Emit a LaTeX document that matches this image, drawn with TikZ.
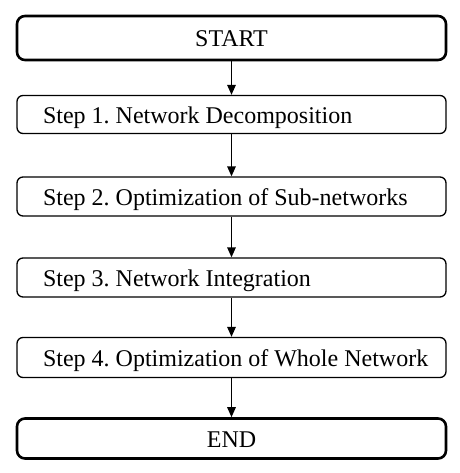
\documentclass[tikz,border=0pt]{standalone}
\usepackage{fontspec}
\setmainfont{Liberation Serif}
\usetikzlibrary{arrows.meta}
\newcommand{\stepline}[1]{\makebox[377pt][l]{#1}}
\tikzset{
    stepbox/.style={draw,line width=1.3pt,rounded corners=6pt,minimum width=429pt,minimum height=38pt,
        inner xsep=0pt,text height=21pt,text depth=3pt,font=\fontsize{24}{26}\selectfont\frenchspacing},
    endbox/.style={draw,line width=2.6pt,rounded corners=8pt,minimum width=429pt,
        text height=21pt,text depth=3pt,font=\fontsize{24}{26}\selectfont},
    flow/.style={line width=1.4pt,-{Triangle[length=10pt,width=8.5pt]}}
}
\begin{document}
\begin{tikzpicture}[x=1pt,y=-1pt]
            \useasboundingbox (0,0) rectangle (459,473);
            \node[endbox,minimum height=44pt] (start) at (231.5,38){START};
            \node[stepbox] (s1) at (231.5,114.5){\stepline{Step 1. Network Decomposition}};
            \node[stepbox,minimum height=39pt] (s2) at (231.5,196.5){\stepline{Step 2. Optimization of Sub-networks}};
            \node[stepbox,minimum height=39pt] (s3) at (231.5,277.5){\stepline{Step 3. Network Integration}};
            \node[stepbox,minimum height=40pt] (s4) at (231.5,357.5){\stepline{Step 4. Optimization of Whole Network}};
            \node[endbox,minimum height=40pt] (end) at (231.5,438.5){END};
            \draw[flow] (start)--(s1);
            \draw[flow] (s1)--(s2);
            \draw[flow] (s2)--(s3);
            \draw[flow] (s3)--(s4);
            \draw[flow] (s4)--(end);
        \end{tikzpicture}
\end{document}
